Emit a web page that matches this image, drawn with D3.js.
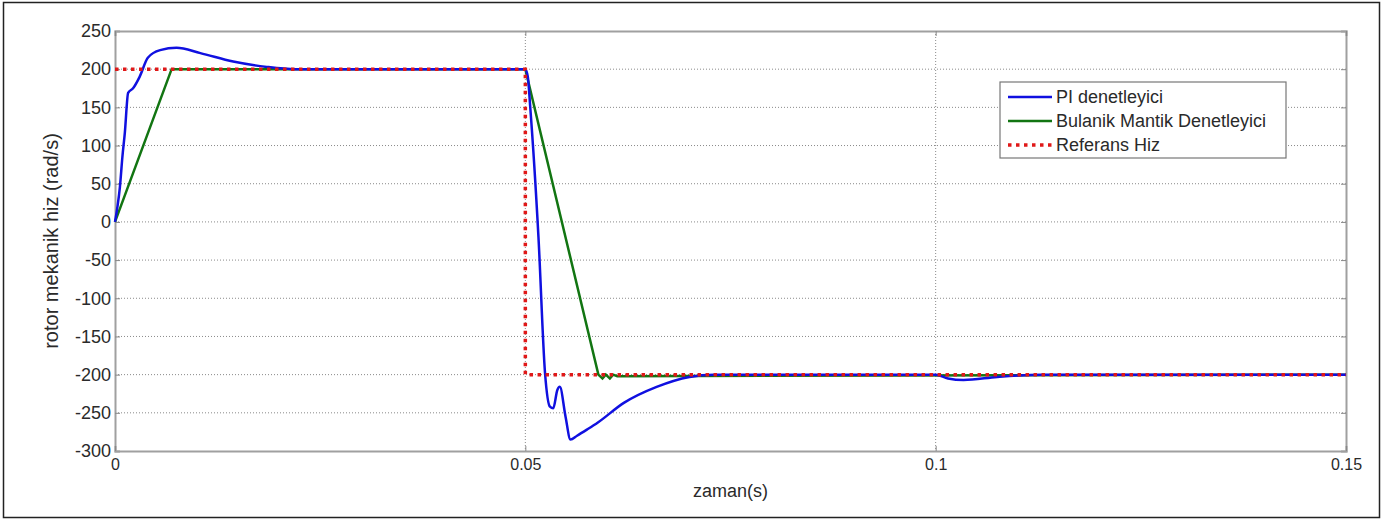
<!DOCTYPE html>
<html>
<head>
<meta charset="utf-8">
<script src="https://cdn.jsdelivr.net/npm/d3@7"></script>
<style>
  body { margin: 0; background: #fff; }
  text { font-family: "Liberation Sans", Arial, sans-serif; fill: #2a2a2a; }
</style>
</head>
<body>
<svg id="chart" width="1398" height="522"></svg>
<script>
// speed response: PI vs fuzzy controller vs reference
const piTime = [0, 0.0003, 0.0006, 0.0009, 0.0012, 0.0016, 0.0022, 0.003, 0.004, 0.0055, 0.0075, 0.0104,
  0.0144, 0.0185, 0.022, 0.05, 0.0503, 0.0506, 0.0516, 0.0524, 0.053, 0.0534, 0.0539, 0.0542,
  0.0549, 0.0555, 0.0563, 0.0575, 0.0588, 0.062, 0.066, 0.07, 0.073, 0.1, 0.1015, 0.1034, 0.1075, 0.113, 0.15];
const piSpeed = [0, 20, 46, 85, 117, 169, 175, 190, 215, 225, 228, 221,
  210, 203, 200, 200, 190, 150, -20, -198, -242, -244, -220, -216,
  -255, -285, -280, -272, -263, -237, -216, -203, -200, -200, -205, -207, -203, -200, -200];

const fuzzyTime = [0, 0.0069, 0.05, 0.0589, 0.0594, 0.0598, 0.0603, 0.0607, 0.0612, 0.15];
const fuzzySpeed = [0, 200, 200, -200, -205, -200, -205, -200, -202, -200];

const refTime = [0, 0.05, 0.05, 0.15];
const refSpeed = [200, 200, -200, -200];

const xTicks = [0, 0.05, 0.1, 0.15];
const yTicks = [250, 200, 150, 100, 50, 0, -50, -100, -150, -200, -250, -300];

const seriesNames = ["PI denetleyici", "Bulanik Mantik Denetleyici", "Referans Hiz"];

const svg = d3.select("#chart");

// outer figure frame
svg.append("rect").attr("x", 3.5).attr("y", 2.5).attr("width", 1376).attr("height", 515)
  .attr("fill", "#fff").attr("stroke", "#222").attr("stroke-width", 1.5);

const pLeft = 115, pRight = 1346, pTop = 31, pBottom = 451;
const x = d3.scaleLinear().domain([0, 0.15]).range([pLeft, pRight]);
const y = d3.scaleLinear().domain([-300, 250]).range([pBottom, pTop]);

// grid
const grid = svg.append("g").attr("stroke", "#8a8a8a").attr("stroke-width", 1).attr("stroke-dasharray", "1,2");
grid.selectAll(".gy").data(yTicks.slice(1, -1)).join("line")
  .attr("x1", pLeft).attr("x2", pRight).attr("y1", d => y(d)).attr("y2", d => y(d));
grid.selectAll(".gx").data(xTicks.slice(1, -1)).join("line")
  .attr("y1", pTop).attr("y2", pBottom).attr("x1", d => x(d)).attr("x2", d => x(d));

// axes (plain hyphen minus like the source)
const yAxis = svg.append("g").attr("transform", `translate(${pLeft},0)`)
  .call(d3.axisLeft(y).tickValues(yTicks).tickSize(-5).tickPadding(4).tickFormat(d => String(d)));
yAxis.selectAll("text").style("font-size", "18px");
const yAxisR = svg.append("g").attr("transform", `translate(${pRight},0)`)
  .call(d3.axisRight(y).tickValues(yTicks).tickSize(-5).tickFormat(""));
const xAxis = svg.append("g").attr("transform", `translate(0,${pBottom})`)
  .call(d3.axisBottom(x).tickValues(xTicks).tickSize(-5).tickPadding(8).tickFormat(d => String(d)));
xAxis.selectAll("text").style("font-size", "16px");
const xAxisT = svg.append("g").attr("transform", `translate(0,${pTop})`)
  .call(d3.axisTop(x).tickValues(xTicks).tickSize(-5).tickFormat(""));
[yAxis, yAxisR, xAxis, xAxisT].forEach(g => {
  g.select(".domain").attr("stroke", "#a0a0a0").attr("stroke-width", 2);
  g.selectAll(".tick line").attr("stroke", "#888");
});

svg.append("text").attr("x", x(0.075)).attr("y", 497).attr("text-anchor", "middle")
  .style("font-size", "18px").text("zaman(s)");
svg.append("text").attr("transform", `translate(58,${y(-25)}) rotate(-90)`).attr("text-anchor", "middle")
  .style("font-size", "20px").text("rotor mekanik hiz (rad/s)");

// lines
const zip = (a, b) => a.map((v, i) => [v, b[i]]);
const straight = d3.line().x(d => x(d[0])).y(d => y(d[1]));
const smooth = d3.line().x(d => x(d[0])).y(d => y(d[1])).curve(d3.curveMonotoneX);

svg.append("path").datum(zip(fuzzyTime, fuzzySpeed))
  .attr("d", straight).attr("fill", "none").attr("stroke", "#127512").attr("stroke-width", 2.5);
svg.append("path").datum(zip(piTime, piSpeed))
  .attr("d", smooth).attr("fill", "none").attr("stroke", "#1010e0").attr("stroke-width", 2.5);
svg.append("path").datum(zip(refTime, refSpeed))
  .attr("d", straight).attr("fill", "none")
  .attr("stroke", "#e01818").attr("stroke-width", 3.5).attr("stroke-dasharray", "3.5,4.5");

// legend
const lg = svg.append("g").attr("transform", "translate(1000,82)");
lg.append("rect").attr("width", 286).attr("height", 76).attr("fill", "#fff")
  .attr("stroke", "#777").attr("stroke-width", 1.2);
const colors = ["#1010e0", "#127512", "#e01818"];
seriesNames.forEach((name, i) => {
  const yy = 15 + i * 24;
  lg.append("line").attr("x1", 8).attr("x2", 52).attr("y1", yy).attr("y2", yy)
    .attr("stroke", colors[i]).attr("stroke-width", i === 2 ? 3.5 : 2.5)
    .attr("stroke-dasharray", i === 2 ? "3.5,4.5" : null);
  lg.append("text").attr("x", 56).attr("y", yy + 6).style("font-size", "18px").text(name);
});
</script>
</body>
</html>
